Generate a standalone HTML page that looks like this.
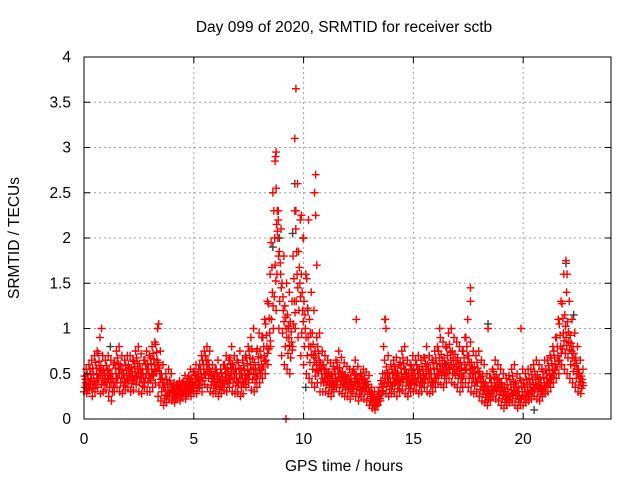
<!DOCTYPE html>
<html><head><meta charset="utf-8"><style>
body{margin:0;background:#fff;}
svg{display:block;font-family:"Liberation Sans",sans-serif;}
</style></head><body>
<svg id="chart" width="640" height="480">
<text x="344" y="32" text-anchor="middle" font-size="15.5">Day 099 of 2020, SRMTID for receiver sctb</text>
<text x="344" y="471" text-anchor="middle" font-size="15.5">GPS time / hours</text>
<text transform="translate(19,238) rotate(-90)" text-anchor="middle" font-size="15.5">SRMTID / TECUs</text>
<g id="grid"></g><g id="marks"></g><g id="axes"></g>
</svg>
<script>
const xTicks=[0,5,10,15,20];
const yTicks=[0,0.5,1,1.5,2,2.5,3,3.5,4];
const yTickLabels=["0","0.5","1","1.5","2","2.5","3","3.5","4"];
const slotStep=0.125;
const redLo=[.30,.28,.32,.25,.30,.35,.28,.30,.32,.25,.20,.30,.35,.30,.28,.32,.35,.30,.32,.38,.30,.28,.35,.30,.30,.35,.40,.25,.20,.15,.18,.22,.20,.18,.22,.20,.25,.22,.28,.25,.30,.28,.35,.30,.38,.35,.30,.28,.30,.25,.28,.32,.30,.35,.30,.28,.30,.25,.28,.35,.40,.32,.30,.35,.40,.45,.50,.60,.80,1.00,1.20,1.00,.70,.60,.55,.50,.80,1.00,.90,.70,.60,.50,.45,.40,.35,.40,.30,.30,.30,.28,.25,.30,.35,.30,.28,.25,.25,.22,.28,.25,.20,.25,.22,.20,.15,.12,.10,.15,.20,.30,.28,.25,.28,.30,.25,.30,.32,.28,.25,.30,.30,.32,.28,.30,.35,.30,.28,.30,.35,.40,.38,.35,.40,.45,.40,.38,.35,.30,.35,.40,.35,.30,.28,.30,.25,.20,.18,.15,.20,.25,.22,.20,.15,.12,.15,.18,.20,.15,.12,.15,.15,.18,.20,.22,.25,.22,.20,.25,.28,.30,.35,.40,.45,.50,.60,.55,.50,.45,.40,.35,.30,.28];
const redMid=[.40,.38,.45,.42,.50,.55,.48,.45,.48,.45,.40,.50,.55,.50,.45,.48,.50,.48,.52,.55,.50,.45,.55,.50,.55,.60,.65,.50,.40,.30,.32,.35,.30,.28,.32,.30,.35,.32,.40,.38,.45,.40,.50,.55,.60,.55,.45,.40,.45,.40,.42,.50,.48,.55,.50,.45,.50,.45,.48,.55,.60,.55,.50,.60,.60,.70,.80,.95,1.40,1.70,2.00,1.60,1.20,1.00,.90,.85,1.30,1.60,1.50,1.20,1.00,.90,.80,.70,.60,.65,.50,.50,.45,.42,.40,.45,.50,.45,.42,.40,.40,.38,.45,.40,.35,.40,.38,.35,.25,.20,.18,.25,.35,.50,.45,.40,.45,.48,.42,.50,.55,.45,.42,.48,.45,.50,.45,.48,.55,.50,.45,.50,.55,.60,.58,.55,.62,.65,.60,.58,.55,.50,.60,.70,.55,.50,.45,.50,.40,.35,.30,.28,.35,.40,.38,.35,.30,.25,.28,.32,.35,.30,.25,.30,.30,.32,.35,.38,.40,.38,.35,.40,.45,.48,.55,.60,.70,.80,.95,.90,.85,.75,.65,.55,.45,.40];
const redHi=[.55,.60,.65,.70,.75,.90,.70,.65,.70,.65,.60,.75,.80,.70,.65,.70,.70,.65,.75,.80,.72,.65,.75,.70,.80,.85,1.00,.75,.60,.50,.55,.50,.40,.38,.42,.40,.48,.45,.55,.52,.60,.55,.70,.75,.80,.75,.60,.55,.65,.55,.60,.70,.65,.80,.70,.65,.75,.65,.70,.80,.90,1.00,.75,.95,.90,1.10,1.30,1.60,2.50,2.90,2.30,2.10,1.80,1.50,1.40,1.30,2.30,2.60,2.20,2.00,1.60,2.20,1.40,1.20,.90,.95,.75,.70,.65,.62,.58,.65,.75,.68,.62,.58,.55,.52,.65,.58,.50,.55,.52,.48,.35,.30,.25,.35,.50,1.10,.70,.60,.65,.68,.60,.75,.80,.65,.60,.70,.65,.70,.65,.68,.80,.70,.65,.75,.80,.90,.85,.80,.95,1.00,.90,.85,.80,.75,.90,1.10,.85,.75,.70,.75,.65,.60,.50,.45,.55,.65,.60,.55,.50,.45,.48,.55,.60,.50,.45,.55,.50,.55,.55,.60,.65,.60,.55,.65,.65,.70,.80,.90,1.10,1.30,1.60,1.40,1.30,1.10,.95,.80,.65,.55];
const spikeT=[0.8,8.75,8.7,8.75,8.8,8.85,9.2,9.65,9.6,9.65,9.9,10.0,10.55,10.5,10.55,10.6,12.4,13.7,13.75,17.6,17.6,19.9,21.95,22.0,18.4,16.2,3.4];
const spikeV=[1.0,2.95,2.85,2.55,2.3,2.2,0,3.65,3.1,2.3,2.25,2.0,2.7,2.5,2.25,1.7,1.1,1.1,1.0,1.45,1.3,1.0,1.75,1.6,1.0,1.0,1.05];
const grayT=[8.6,9.6,9.5,10.2,10.1,18.4,21.95,22.3,1.2,16.5,20.5,8.9,9.3];
const grayV=[1.9,2.6,2.05,1.2,0.35,1.05,1.72,1.15,0.8,0.6,0.1,2.0,1.0];
const L=84,R=611,T=57,B=419;
const xs=v=>L+v*(R-L)/24, ys=v=>B-v*(B-T)/4;
const NS="http://www.w3.org/2000/svg";
function mk(tag,attrs,parent){const e=document.createElementNS(NS,tag);for(const k in attrs)e.setAttribute(k,attrs[k]);parent.appendChild(e);return e;}
const grid=document.getElementById('grid'),axes=document.getElementById('axes'),marks=document.getElementById('marks');
xTicks.forEach((t,i)=>{const x=xs(t);
 if(i>0){const g=mk('line',{x1:x,x2:x,y1:T,y2:B,stroke:'#a0a0a0','stroke-dasharray':'2,3'},grid);
 
 }
 mk('line',{x1:x,x2:x,y1:B,y2:B-6,stroke:'#000'},axes);
 mk('line',{x1:x,x2:x,y1:T,y2:T+6,stroke:'#000'},axes);
 const tx=mk('text',{x:x,y:B+25,'text-anchor':'middle','font-size':15.5},axes);tx.textContent=t;
 
 
});
yTicks.forEach((t,i)=>{const y=ys(t);
 if(i>0&&i<yTicks.length-1){const g=mk('line',{x1:L,x2:R,y1:y,y2:y,stroke:'#a0a0a0','stroke-dasharray':'2,3'},grid);
 
 }
 mk('line',{x1:L,x2:L+6,y1:y,y2:y,stroke:'#000'},axes);
 mk('line',{x1:R,x2:R-6,y1:y,y2:y,stroke:'#000'},axes);
 const tx=mk('text',{x:L-13,y:y+5,'text-anchor':'end','font-size':15.5},axes);tx.textContent=yTickLabels[i];
 
 
});
const box=mk('rect',{x:L,y:T,width:R-L,height:B-T,fill:'none',stroke:'#000'},axes);


function plus(t,v,color,name){const x=xs(t),y=ys(v);
 const p=mk('path',{d:`M${x-4},${y}h8M${x},${y-4}v8`,stroke:color,'stroke-width':1.4,fill:'none'},marks);
 
 }
grayT.forEach((t,i)=>plus(t,grayV[i],'#404040','gray-point'));
redLo.forEach((v,i)=>{const t=i*slotStep;
 const m=redMid[i],h=redHi[i];
 plus(t,v,'#ff0000','red-point');
 plus(t+0.04,(v+m)/2,'#ff0000','red-point');
 plus(t+0.08,m,'#ff0000','red-point');
 plus(t+0.02,(m+h)/2,'#ff0000','red-point');
 plus(t+0.1,h,'#ff0000','red-point');
 plus(t+0.06,(3*m+h)/4,'#ff0000','red-point');
 plus(t+0.11,(v+3*m)/4,'#ff0000','red-point');
});
spikeT.forEach((t,i)=>plus(t,spikeV[i],'#ff0000','red-spike-point'));
</script>
</body></html>
